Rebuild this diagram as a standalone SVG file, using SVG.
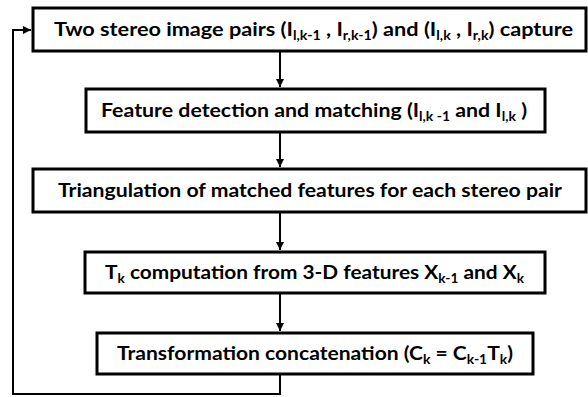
<svg xmlns="http://www.w3.org/2000/svg" width="588" height="397" viewBox="0 0 588 397">
<defs>
<style>
.box{fill:#fff;stroke:#000;stroke-width:3}
.t{font-family:Lato,"Liberation Sans",sans-serif;font-weight:bold;font-size:19px;fill:#000}
.s{font-size:12.5px}
.c{fill:none;stroke:#000;stroke-width:2}
</style>
<marker id="ah" markerUnits="userSpaceOnUse" markerWidth="9" markerHeight="9" refX="8" refY="4" orient="auto">
<path d="M0,0 L8,4 L0,8 z" fill="#000"/>
</marker>
</defs>
<rect width="588" height="397" fill="#fff"/>
<g id="connectors">
<line class="c" x1="280" y1="51" x2="280" y2="87" marker-end="url(#ah)"/>
<line class="c" x1="280" y1="132" x2="280" y2="167" marker-end="url(#ah)"/>
<line class="c" x1="280" y1="212" x2="280" y2="250" marker-end="url(#ah)"/>
<line class="c" x1="280" y1="293" x2="280" y2="331" marker-end="url(#ah)"/>
<path class="c" d="M280,374 V394 H13 V30 H31" marker-end="url(#ah)"/>
</g>
<g id="n1">
<rect class="box" x="33" y="8" width="553" height="43"/>
<text class="t" x="54" y="36" textLength="519" lengthAdjust="spacingAndGlyphs">Two stereo image pairs (I<tspan class="s" dy="4">l,k-1</tspan><tspan dy="-4"> , I</tspan><tspan class="s" dy="4">r,k-1</tspan><tspan dy="-4">) and (I</tspan><tspan class="s" dy="4">l,k</tspan><tspan dy="-4"> , I</tspan><tspan class="s" dy="4">r,k</tspan><tspan dy="-4">) capture</tspan></text>
</g>
<g id="n2">
<rect class="box" x="86" y="89" width="459" height="43"/>
<text class="t" x="101" y="117" textLength="426" lengthAdjust="spacingAndGlyphs">Feature detection and matching (I<tspan class="s" dy="4">l,k -1</tspan><tspan dy="-4"> and I</tspan><tspan class="s" dy="4">l,k</tspan><tspan dy="-4"> )</tspan></text>
</g>
<g id="n3">
<rect class="box" x="33" y="169" width="553" height="43"/>
<text class="t" x="58" y="197" textLength="504" lengthAdjust="spacingAndGlyphs">Triangulation of matched features for each stereo pair</text>
</g>
<g id="n4">
<rect class="box" x="85" y="252" width="460" height="41"/>
<text class="t" x="105" y="279" textLength="419" lengthAdjust="spacingAndGlyphs">T<tspan class="s" dy="4">k</tspan><tspan dy="-4"> computation from 3-D features X</tspan><tspan class="s" dy="4">k-1</tspan><tspan dy="-4"> and X</tspan><tspan class="s" dy="4">k</tspan></text>
</g>
<g id="n5">
<rect class="box" x="97" y="333" width="436" height="41"/>
<text class="t" x="117" y="360" textLength="396" lengthAdjust="spacingAndGlyphs">Transformation concatenation (C<tspan class="s" dy="4">k</tspan><tspan dy="-4"> = C</tspan><tspan class="s" dy="4">k-1</tspan><tspan dy="-4">T</tspan><tspan class="s" dy="4">k</tspan><tspan dy="-4">)</tspan></text>
</g>
</svg>
